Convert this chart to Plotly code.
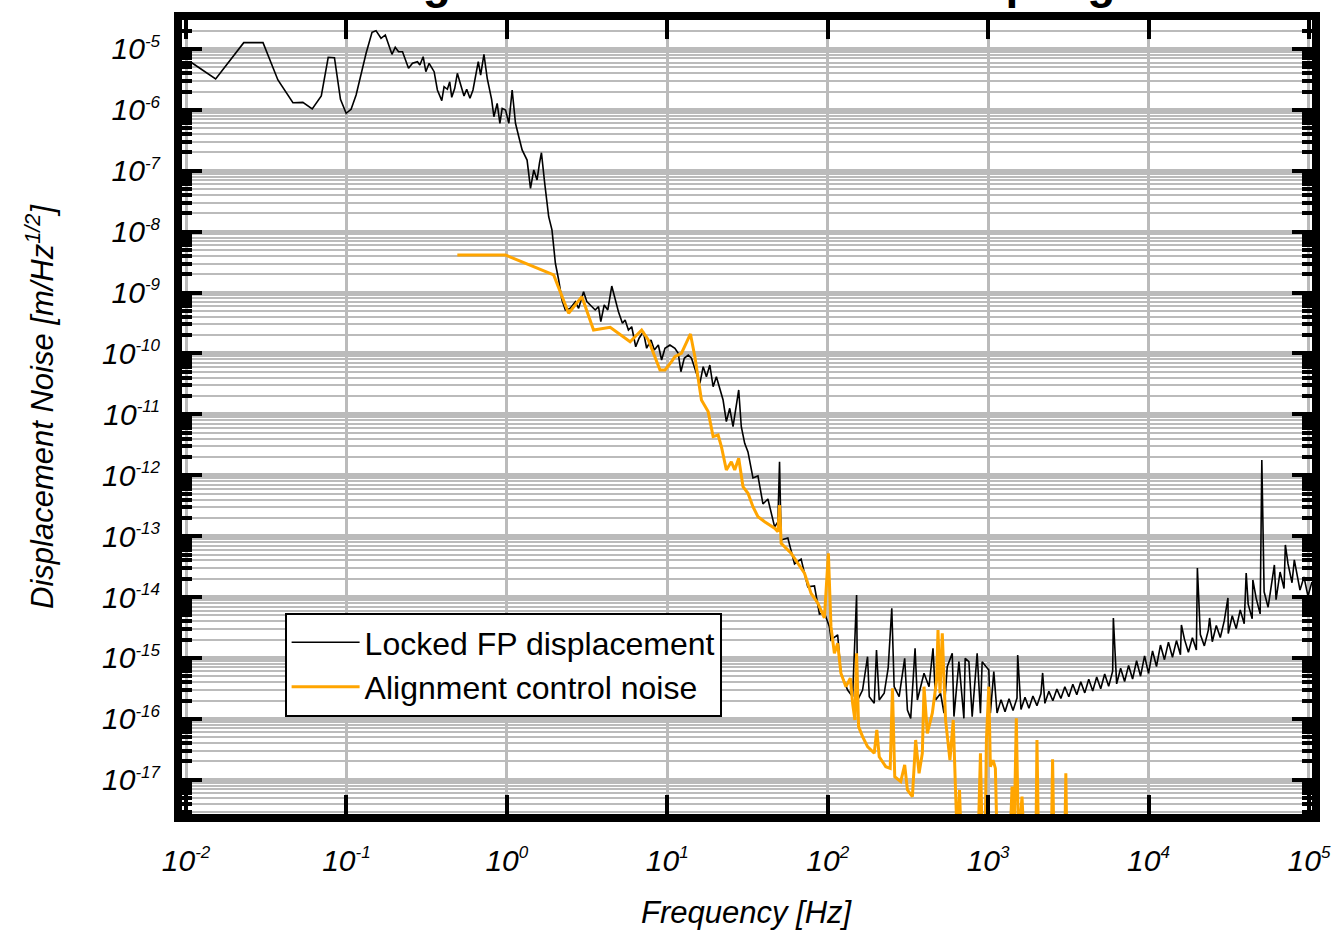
import plotly.graph_objects as go

# ---------------- data ----------------
# Locked FP displacement  [Hz], [m/Hz^1/2]
fp_freq = [
    0.0108, 0.0153, 0.0229, 0.0302, 0.0374, 0.0464, 0.0535, 0.0612, 0.0697, 0.0770,
    0.0842, 0.0918, 0.0996, 0.1069, 0.1149, 0.1326, 0.1444, 0.1529, 0.1643, 0.1747,
    0.1922, 0.2015, 0.2113, 0.2237, 0.2438, 0.2581, 0.2773, 0.2869, 0.3008, 0.3126,
    0.3278, 0.3521, 0.3690, 0.3930, 0.4062, 0.4258, 0.4405, 0.4534, 0.4732, 0.4913,
    0.5160, 0.5406, 0.5620, 0.5890, 0.6151, 0.6392, 0.6636, 0.6865, 0.7199, 0.7546,
    0.8035, 0.8304, 0.8704, 0.9049, 0.9350, 0.9815, 1.029, 1.079, 1.132, 1.187,
    1.245, 1.337, 1.404, 1.472, 1.543, 1.597, 1.643, 1.722, 1.823, 1.911,
    2.007, 2.104, 2.206, 2.315, 2.487, 2.672, 2.801, 3.008, 3.153, 3.311,
    3.555, 3.728, 3.852, 4.045, 4.258, 4.508, 4.733, 4.963, 5.253, 5.461,
    5.725, 6.002, 6.357, 6.672, 7.094, 7.436, 7.920, 8.306, 8.795, 9.218,
    9.676, 10.39, 11.16, 11.70, 12.16, 12.76, 13.51, 14.16, 15.08, 15.97,
    16.74, 17.54, 18.42, 19.31, 20.24, 21.25, 22.28, 23.35, 24.51, 25.70,
    26.94, 27.88, 28.94, 30.38, 31.85, 34.21, 36.75, 39.48, 42.40, 46.67,
    48.92, 50.1, 51.29, 56.45, 62.13, 68.29, 75.11, 82.69, 88.81, 95.39,
    102.5, 104.8, 115.4, 120.9, 133.1, 143.0, 151.4, 153.6, 165.0, 177.2,
    181.6, 195.0, 201.5, 209.5, 225.0, 238.2, 250.9, 259.6, 278.8, 302.0,
    314.1, 329.2, 350.5, 362.2, 398.6, 428.2, 453.4, 470.6, 505.6, 530.8,
    556.3, 597.6, 612.4, 657.7, 706.3, 719.5, 758.9, 795.5, 854.6, 895.9,
    918.1, 1010, 1033, 1085,
    1137, 1204, 1275, 1350, 1430, 1514, 1529, 1603, 1698, 1797,
    1903, 2016, 2134, 2187, 2259, 2393, 2533, 2683, 2841, 3008,
    3185, 3373, 3571, 3781, 4005, 4240, 4489, 4753, 5034, 5330,
    5644, 5976, 6036, 6327, 6700, 7094, 7512, 7955, 8424, 8919,
    9446, 10000, 10590, 11210, 11870, 12570, 13310, 14100, 14930, 15810,
    16030, 16740, 17720, 18770, 19870, 20160, 21040, 22280, 23590, 24030,
    24970, 26450, 28010, 29650, 31260, 31400, 33250, 35210, 37280, 39480,
    40620, 41800, 44260, 44700, 46860, 49630, 50840, 52540, 55640, 58910,
    60880, 62370, 66060, 69940, 71260, 74060, 78410, 81050, 83050, 87930,
    93100, 98580, 104400,
]
fp_asd = [
    6.0e-6, 3.22e-6, 1.27e-5, 1.27e-5, 3.10e-6, 1.31e-6, 1.33e-6, 1.04e-6, 1.69e-6, 7.31e-6,
    7.20e-6, 1.49e-6, 8.79e-7, 1.02e-6, 1.76e-6, 8.50e-6, 1.88e-5, 2.00e-5, 1.50e-5, 1.70e-5,
    8.18e-6, 1.07e-5, 9.03e-6, 9.0e-6, 4.82e-6, 5.82e-6, 6.19e-6, 5.46e-6, 7.47e-6, 4.24e-6,
    5.82e-6, 4.24e-6, 2.12e-6, 1.42e-6, 2.40e-6, 2.18e-6, 2.90e-6, 1.61e-6, 2.26e-6, 3.99e-6,
    2.56e-6, 1.69e-6, 2.18e-6, 1.55e-6, 2.12e-6, 3.74e-6, 6.19e-6, 3.74e-6, 8.18e-6, 3.30e-6,
    1.49e-6, 7.73e-7, 1.28e-6, 6.03e-7, 1.06e-6, 9.96e-7, 6.03e-7, 2.12e-6, 6.03e-7, 3.63e-7,
    2.20e-7, 1.50e-7, 5.16e-8, 1.03e-7, 7.06e-8, 1.33e-7, 1.98e-7, 6.23e-8, 1.76e-8, 1.07e-8,
    3.03e-9, 1.61e-9, 7.56e-10, 5.18e-10, 5.52e-10, 7.09e-10, 5.52e-10, 1.03e-9, 7.09e-10, 6.26e-10,
    5.18e-10, 5.87e-10, 3.33e-10, 6.26e-10, 5.18e-10, 1.28e-9, 7.56e-10, 4.86e-10, 3.13e-10, 3.55e-10,
    2.43e-10, 2.75e-10, 1.29e-10, 1.78e-10, 2.28e-10, 1.22e-10, 1.67e-10, 1.14e-10, 1.38e-10, 7.82e-11,
    1.22e-10, 1.38e-10, 1.22e-10, 1.01e-10, 5.02e-11, 8.34e-11, 9.45e-11, 8.34e-11, 5.02e-11, 3.24e-11,
    6.07e-11, 4.16e-11, 6.47e-11, 2.85e-11, 4.16e-11, 2.52e-11, 1.72e-11, 7.59e-12, 1.26e-11, 6.28e-12,
    1.52e-11, 2.52e-11, 6.28e-12, 3.35e-12, 2.42e-12, 9.04e-13, 9.75e-13, 3.38e-13, 4.08e-13, 1.42e-13,
    1.71e-13, 1.67e-12, 8.67e-14, 9.33e-14, 3.50e-14, 4.22e-14, 1.47e-14, 1.52e-14, 5.28e-15, 5.48e-15,
    3.27e-15, 1.98e-15, 2.39e-15, 5.61e-16, 2.98e-16, 2.31e-16, 1.08e-14, 2.04e-16, 2.98e-16, 1.05e-15,
    2.31e-16, 1.80e-16, 1.35e-15, 2.04e-16, 2.63e-16, 6.78e-16, 6.55e-15, 3.38e-16, 2.31e-16, 9.88e-16,
    1.40e-16, 1.02e-16, 1.44e-15, 2.04e-16, 5.61e-16, 3.38e-16, 1.44e-15, 2.04e-16, 2.63e-16, 1.24e-16,
    7.20e-16, 1.19e-15, 1.09e-16, 8.69e-16, 1.02e-16, 9.88e-16, 8.69e-16, 1.09e-16, 1.19e-15, 1.24e-16,
    8.69e-16, 6.35e-16, 1.24e-16, 5.96e-16,
    1.25e-16, 2.07e-16, 1.31e-16, 2.14e-16, 1.37e-16, 2.20e-16, 1.12e-15, 1.43e-16, 2.27e-16, 1.50e-16,
    2.38e-16, 1.65e-16, 2.58e-16, 5.68e-16, 1.80e-16, 2.83e-16, 1.98e-16, 3.08e-16, 2.17e-16, 3.38e-16,
    2.31e-16, 3.70e-16, 2.49e-16, 4.06e-16, 2.67e-16, 4.46e-16, 2.87e-16, 4.88e-16, 3.12e-16, 5.45e-16,
    3.42e-16, 6.07e-16, 4.54e-15, 3.76e-16, 6.78e-16, 4.11e-16, 7.55e-16, 4.52e-16, 9.0e-16, 5.02e-16,
    1.08e-15, 5.58e-16, 1.31e-15, 7.24e-16, 1.63e-15, 9.38e-16, 1.82e-15, 1.03e-15, 1.93e-15, 1.13e-15,
    3.48e-15, 2.04e-15, 1.24e-15, 2.15e-15, 1.35e-15, 3.01e-14, 2.42e-15, 1.58e-15, 2.87e-15, 4.54e-15,
    1.85e-15, 3.42e-15, 2.16e-15, 4.06e-15, 9.66e-15, 2.52e-15, 4.93e-15, 3.03e-15, 6.17e-15, 3.66e-15,
    2.49e-14, 7.67e-15, 4.41e-15, 1.91e-14, 9.62e-15, 5.30e-15, 1.78e-12, 1.22e-14, 6.81e-15, 1.78e-14,
    3.37e-14, 9.04e-15, 2.58e-14, 1.38e-14, 7.17e-14, 3.50e-14, 1.72e-14, 4.07e-14, 2.80e-14, 1.30e-14,
    2.14e-14, 1.04e-14, 1.77e-14,
]

# Alignment control noise  [Hz], [m/Hz^1/2]
acn_freq = [
    0.4913, 0.9815, 1.958, 2.427, 2.936, 3.471, 4.407, 5.867, 6.923, 7.621,
    9.010, 9.676, 10.63, 11.16, 12.27, 13.18, 13.95, 14.86, 15.58, 16.33,
    17.98, 19.31, 20.74, 21.75, 23.35, 25.08, 26.33, 27.88, 29.65, 31.85,
    34.21, 36.75, 40.45, 46.67, 48.92, 50.1, 51.29, 59.16, 65.13, 71.67,
    78.77, 86.67, 95.39, 101.0, 104.8, 110.1, 115.4, 120.9, 129.9, 138.4,
    143.0, 147.8, 151.4, 155.8, 165.0, 177.2, 195.0, 202.4, 209.5, 230.2,
    245.2, 253.3, 261.8, 285.3, 302.0, 314.1, 337.3, 353.5, 371.2, 389.0,
    398.6, 417.9, 449.0, 477.5, 487.1, 501.2, 518.0, 542.9, 578.2, 606.3,
    626.5, 642.0, 663.4, 679.8, 866.8, 895.9, 918.1, 958.1, 976.0, 1010,
    1033, 1074, 1110, 1137, 1369, 1410, 1450, 1499, 1547, 1627,
    1673, 1987, 2016, 2059, 2480, 2523, 2570, 3008, 3051, 3095,
]
acn_asd = [
    4.14e-9, 4.14e-9, 1.95e-9, 4.57e-10, 8.57e-10, 2.43e-10, 2.69e-10, 1.56e-10, 2.43e-10, 1.67e-10,
    5.36e-11, 5.36e-11, 7.34e-11, 8.86e-11, 1.01e-10, 1.56e-10, 2.09e-10, 8.86e-11, 4.16e-11, 1.72e-11,
    1.11e-11, 4.31e-12, 4.59e-12, 2.95e-12, 1.22e-12, 1.67e-12, 1.22e-12, 1.90e-12, 6.50e-13, 5.06e-13,
    3.05e-13, 2.09e-13, 1.73e-13, 1.35e-13, 1.19e-13, 3.25e-13, 7.64e-14, 5.24e-14, 3.59e-14, 2.46e-14,
    1.15e-14, 8.0e-15, 4.54e-15, 5.24e-14, 3.27e-15, 1.19e-15, 1.74e-15, 5.61e-16, 3.38e-16, 4.65e-16,
    1.80e-16, 9.59e-17, 1.19e-15, 7.45e-17, 5.10e-17, 3.50e-17, 2.72e-17, 6.58e-17, 2.39e-17, 1.64e-17,
    1.54e-17, 3.18e-16, 1.12e-17, 9.31e-18, 1.75e-17, 6.81e-18, 5.28e-18, 4.50e-17, 1.28e-17, 2.72e-17,
    3.38e-16, 5.80e-17, 1.24e-16, 4.36e-16, 2.88e-15, 2.63e-16, 2.55e-15, 9.59e-17, 2.11e-17, 9.59e-17,
    6.81e-18, 1e-18, 6.81e-18, 1e-18, 1e-18, 2.72e-17, 1e-18, 1e-18, 4.50e-17, 3.38e-16,
    1.64e-17, 2.11e-17, 1.54e-17, 1e-18, 1e-18, 7.71e-18, 1e-18, 1.02e-16, 1e-18, 5.28e-18,
    1e-18, 1e-18, 4.50e-17, 1e-18, 1e-18, 2.17e-17, 1e-18, 1e-18, 1.28e-17, 1e-18,
]

assert len(fp_freq) == len(fp_asd), (len(fp_freq), len(fp_asd))
assert len(acn_freq) == len(acn_asd), (len(acn_freq), len(acn_asd))

series_names = ["Locked FP displacement", "Alignment control noise"]
series_colors = ["#000000", "#FFA500"]

x_tick_vals = [1e-2, 1e-1, 1e0, 1e1, 1e2, 1e3, 1e4, 1e5]
x_tick_exp = ["-2", "-1", "0", "1", "2", "3", "4", "5"]
y_tick_vals = [1e-5, 1e-6, 1e-7, 1e-8, 1e-9, 1e-10, 1e-11, 1e-12, 1e-13,
               1e-14, 1e-15, 1e-16, 1e-17]
y_tick_exp = ["-5", "-6", "-7", "-8", "-9", "-10", "-11", "-12", "-13",
              "-14", "-15", "-16", "-17"]

title_text = "Alignment Control Noise Coupling"
x_title = "Frequency [Hz]"
y_title = "Displacement Noise [m/Hz<sup>1/2</sup>]"

# ---------------- figure ----------------
FONT = "Liberation Sans, Arial, Helvetica, sans-serif"
SUP = '<sup><span style="font-size:17px">{}</span></sup>'

x_tick_text = ["10" + SUP.format(e) for e in x_tick_exp]
y_tick_text = ["10" + SUP.format(e) for e in y_tick_exp]
y_minor = [k * 10.0 ** n for n in range(-18, -4) for k in range(2, 10)]

fig = go.Figure()
fig.add_trace(go.Scatter(x=fp_freq, y=fp_asd, mode="lines", name=series_names[0],
                         line=dict(color=series_colors[0], width=1.6)))
fig.add_trace(go.Scatter(x=acn_freq, y=acn_asd, mode="lines", name=series_names[1],
                         line=dict(color=series_colors[1], width=3)))

GRID = "#BBBBBB"
fig.update_xaxes(
    type="log", range=[-2.025, 5.019],
    tickmode="array", tickvals=x_tick_vals, ticktext=x_tick_text,
    ticks="inside", ticklen=19, tickwidth=4, tickcolor="black",
    showline=True, linewidth=8, linecolor="black", mirror="allticks",
    showgrid=True, gridcolor=GRID, gridwidth=3,
    tickfont=dict(family=FONT, size=30, color="black", style="italic"),
    ticklabelstandoff=13,
    zeroline=False,
)
fig.update_yaxes(
    type="log", range=[-17.562, -4.524],
    tickmode="array", tickvals=y_tick_vals, ticktext=y_tick_text,
    ticks="inside", ticklen=20, tickwidth=3.5, tickcolor="black",
    showline=True, linewidth=8, linecolor="black", mirror="allticks",
    showgrid=True, gridcolor=GRID, gridwidth=3.5,
    minor=dict(tickmode="array", tickvals=y_minor, ticks="inside", ticklen=10,
               tickwidth=3.5, tickcolor="black", showgrid=True,
               gridcolor=GRID, gridwidth=1.8),
    tickfont=dict(family=FONT, size=30, color="black", style="italic"),
    ticklabelstandoff=8,
    zeroline=False,
)

fig.update_layout(
    width=1343, height=930,
    margin=dict(l=182, r=27, t=20, b=116, pad=0),
    paper_bgcolor="white", plot_bgcolor="white",
    font=dict(family=FONT, color="black"),
    showlegend=True,
    legend=dict(x=0.0908, y=0.2532, xanchor="left", yanchor="top",
                bgcolor="white", bordercolor="black", borderwidth=2,
                font=dict(family=FONT, size=32, color="black"),
                itemwidth=68, tracegroupgap=0),
    annotations=[
        dict(text="<b>" + title_text + "</b>", xref="paper", yref="paper",
             x=0.5, y=1, xanchor="center", yanchor="bottom", yshift=10,
             xshift=-8, showarrow=False,
             font=dict(family=FONT, size=46, color="black")),
        dict(text=x_title, xref="paper", yref="paper", x=0.5, y=0,
             xanchor="center", yanchor="middle", yshift=-98, showarrow=False,
             font=dict(family=FONT, size=31, color="black", style="italic")),
        dict(text=y_title, xref="paper", yref="paper", x=0, y=0.5,
             xanchor="center", yanchor="middle", xshift=-142, yshift=10,
             textangle=-90, showarrow=False,
             font=dict(family=FONT, size=31, color="black", style="italic")),
    ],
)

fig.write_html("out.html")
